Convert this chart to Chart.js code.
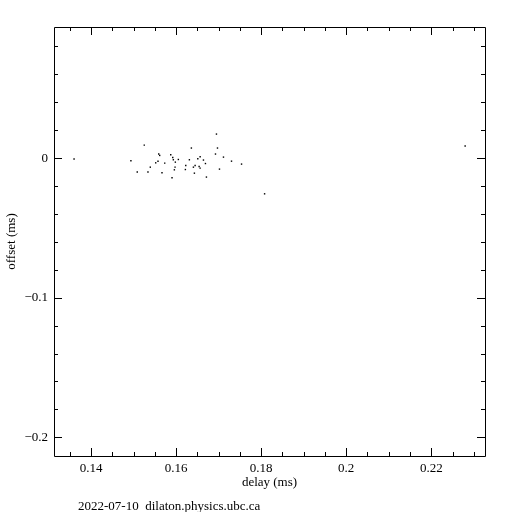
<!DOCTYPE html>
<html>
<head>
<meta charset="utf-8">
<script src="https://cdn.jsdelivr.net/npm/chart.js@4"></script>
<style>
  html, body { margin: 0; padding: 0; background: #fff; }
</style>
</head>
<body>
<canvas id="chart" width="512" height="512"></canvas>
<script>
// delay (ms) vs offset (ms)
const delay = [
  0.13599, 0.14936, 0.15085, 0.15250, 0.15337, 0.15392, 0.15519, 0.15573,
  0.15590, 0.15613, 0.15667, 0.15731, 0.15873, 0.15920, 0.15934, 0.15958,
  0.15903, 0.15981, 0.16052, 0.15974, 0.16226, 0.16217, 0.16311, 0.16358,
  0.16406, 0.16446, 0.16429, 0.16509, 0.16564, 0.16540, 0.16564, 0.16642,
  0.16689, 0.16712, 0.16925, 0.16948, 0.16972, 0.17019, 0.17113, 0.17302,
  0.17538, 0.18080, 0.22797
];
const offset = [
  -0.0007, -0.0019, -0.0100, 0.0093, -0.0100, -0.0065, -0.0034, -0.0023,
  0.0029, 0.0019, -0.0105, -0.0036, 0.0024, 0.0004, -0.0012, -0.0084,
  -0.0141, -0.0029, -0.0010, -0.0065, -0.0053, -0.0082, -0.0012, 0.0072,
  -0.0065, -0.0053, -0.0108, -0.0005, 0.0009, -0.0060, -0.0072, -0.0014,
  -0.0039, -0.0136, 0.0029, 0.0172, 0.0072, -0.0079, 0.0007, -0.0022,
  -0.0043, -0.0256, 0.0087
];

const xTicks = [0.14, 0.16, 0.18, 0.2, 0.22];
const xTickLabels = ['0.14', '0.16', '0.18', '0.2', '0.22'];
const yTicks = [0, -0.1, -0.2];
const yTickLabels = ['0', '\u22120.1', '\u22120.2'];

const xRange = [0.13127, 0.23264];
const yRange = [-0.2134, 0.0939];
const xMinorStep = 0.005;
const yMinorStep = 0.02;

const FONT = 'Liberation Serif';

// pgplot style box: frame plus inward ticks on all four sides, and the footer line
const boxPlugin = {
  id: 'box',
  afterDraw(chart) {
    const { ctx, chartArea: a, scales } = chart;
    const xs = scales.x, ys = scales.y;
    ctx.save();
    ctx.strokeStyle = '#000';
    ctx.lineWidth = 1;
    ctx.beginPath();
    ctx.rect(Math.round(a.left) + 0.5, Math.round(a.top) + 0.5,
             Math.round(a.right - a.left), Math.round(a.bottom - a.top));

    const tick = (px, len, horiz) => {
      px = Math.round(px) + 0.5;
      if (horiz) {
        ctx.moveTo(px, a.bottom); ctx.lineTo(px, a.bottom - len);
        ctx.moveTo(px, a.top); ctx.lineTo(px, a.top + len);
      } else {
        ctx.moveTo(a.left, px); ctx.lineTo(a.left + len, px);
        ctx.moveTo(a.right, px); ctx.lineTo(a.right - len, px);
      }
    };
    // x ticks
    const x0 = Math.ceil(xRange[0] / xMinorStep);
    const x1 = Math.floor(xRange[1] / xMinorStep);
    for (let i = x0; i <= x1; i++) {
      const v = i * xMinorStep;
      const major = xTicks.some(t => Math.abs(t - v) < 1e-9);
      tick(xs.getPixelForValue(v), major ? 8 : 4, true);
    }
    // y ticks
    const y0 = Math.ceil(yRange[0] / yMinorStep);
    const y1 = Math.floor(yRange[1] / yMinorStep);
    for (let i = y0; i <= y1; i++) {
      const v = i * yMinorStep;
      const major = yTicks.some(t => Math.abs(t - v) < 1e-9);
      tick(ys.getPixelForValue(v), major ? 8 : 4, false);
    }
    ctx.stroke();

    ctx.fillStyle = '#000';
    ctx.font = '13px "' + FONT + '"';
    ctx.textBaseline = 'middle';
    ctx.textAlign = 'left';
    ctx.fillText('2022-07-10  dilaton.physics.ubc.ca', 78, 507);
    ctx.restore();
  }
};

const ctx = document.getElementById('chart').getContext('2d');
new Chart(ctx, {
  type: 'scatter',
  data: {
    datasets: [{
      data: delay.map((d, i) => ({ x: d, y: offset[i] })),
      backgroundColor: '#000',
      borderWidth: 0,
      pointStyle: 'rect',
      pointRadius: 1,
      pointHoverRadius: 1
    }]
  },
  options: {
    responsive: false,
    animation: false,
    layout: { padding: { left: 0, right: 27, top: 27, bottom: 0 } },
    plugins: {
      legend: { display: false },
      tooltip: { enabled: false }
    },
    scales: {
      x: {
        type: 'linear',
        min: xRange[0],
        max: xRange[1],
        grid: { display: false, drawTicks: false },
        border: { display: false },
        afterBuildTicks: s => { s.ticks = xTicks.map(v => ({ value: v })); },
        afterFit: s => { s.height = 56; },
        ticks: {
          color: '#000',
          padding: 5,
          maxRotation: 0,
          font: { family: FONT, size: 13 },
          callback: (v, i) => xTickLabels[i]
        },
        title: {
          display: true,
          text: 'delay (ms)',
          color: '#000',
          font: { family: FONT, size: 13 },
          padding: { top: 0, bottom: 22 }
        }
      },
      y: {
        type: 'linear',
        min: yRange[0],
        max: yRange[1],
        grid: { display: false, drawTicks: false },
        border: { display: false },
        afterBuildTicks: s => { s.ticks = yTicks.map(v => ({ value: v })); },
        afterFit: s => { s.width = 54; },
        ticks: {
          color: '#000',
          padding: 6,
          font: { family: FONT, size: 13 },
          callback: (v, i) => yTickLabels[i]
        },
        title: {
          display: true,
          text: 'offset (ms)',
          color: '#000',
          font: { family: FONT, size: 13 },
          padding: { top: 4, bottom: 0 }
        }
      }
    }
  },
  plugins: [boxPlugin]
});
</script>
</body>
</html>
